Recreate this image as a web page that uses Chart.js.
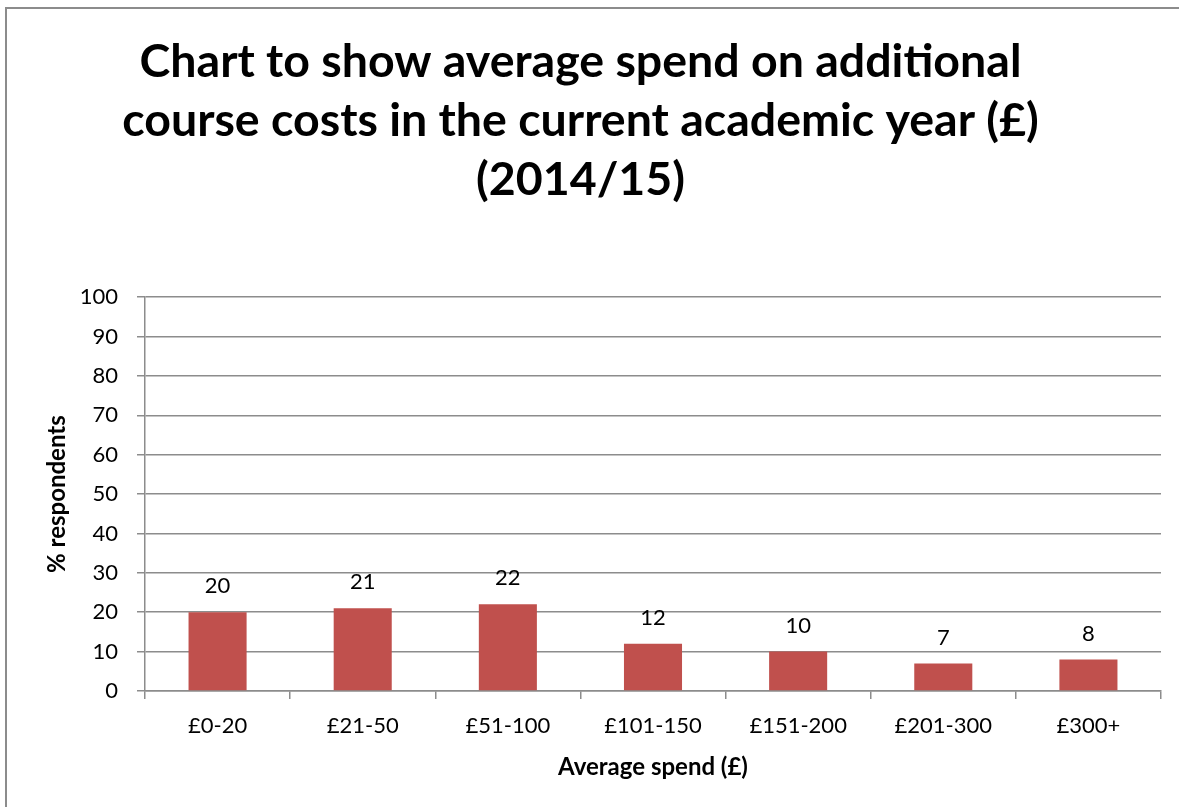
<!DOCTYPE html>
<html>
<head>
<meta charset="utf-8">
<script src="https://cdn.jsdelivr.net/npm/chart.js@4.4.1/dist/chart.umd.min.js"></script>
<style>
  html, body { margin:0; padding:0; background:#fff; overflow:hidden; }
  canvas { display:block; }
</style>
</head>
<body>
<canvas id="spendChart" width="1179" height="807"></canvas>
<script>
const categories = ["£0-20", "£21-50", "£51-100", "£101-150", "£151-200", "£201-300", "£300+"];
const respondents = [20, 21, 22, 12, 10, 7, 8];
const titleLines = [
  "Chart to show average spend on additional",
  "course costs in the current academic year (£)",
  "(2014/15)"
];
const yTitle = "% respondents";
const xTitle = "Average spend (£)";

const barColor = "#C0504D";
const lineColor = "#8c8c8c";
const fontName = "Lato, Carlito, Calibri, sans-serif";

// values printed over each bar
const barLabels = {
  id: "barLabels",
  afterDatasetsDraw(chart){
    const ctx = chart.ctx;
    const meta = chart.getDatasetMeta(0);
    ctx.save();
    ctx.font = "22px " + fontName;
    ctx.fillStyle = "#000";
    ctx.textAlign = "center";
    ctx.textBaseline = "middle";
    meta.data.forEach(function(bar, i){
      ctx.fillText(String(chart.data.datasets[0].data[i]), bar.x, bar.y - 26);
    });
    ctx.restore();
  }
};

// outer chart frame (only left and top edges fall inside the picture)
const frame = {
  id: "frame",
  beforeDraw(chart){
    const ctx = chart.ctx;
    ctx.save();
    ctx.strokeStyle = lineColor;
    ctx.lineWidth = 2;
    ctx.beginPath();
    ctx.moveTo(6, chart.height);
    ctx.lineTo(6, 8);
    ctx.lineTo(chart.width, 8);
    ctx.stroke();
    ctx.restore();
  }
};

const ctx = document.getElementById("spendChart");
new Chart(ctx, {
  type: "bar",
  data: {
    labels: categories,
    datasets: [{
      label: "% respondents",
      data: respondents,
      backgroundColor: barColor,
      borderWidth: 0,
      barPercentage: 0.4,
      categoryPercentage: 1.0
    }]
  },
  options: {
    responsive: false,
    animation: false,
    layout: { padding: { top: 0, left: 0, right: 18, bottom: 0 } },
    plugins: {
      legend: { display: false },
      tooltip: { enabled: false },
      title: {
        display: true,
        text: titleLines,
        color: "#000",
        font: { family: fontName, size: 46.5, weight: "bold", lineHeight: 1.27 },
        padding: { top: 32, bottom: 88 }
      }
    },
    scales: {
      x: {
        offset: true,
        afterFit(scale){ scale.height = 116; },
        grid: {
          offset: true,
          drawOnChartArea: false,
          drawTicks: true,
          tickLength: 8,
          color: lineColor,
          lineWidth: 1.5
        },
        border: { color: lineColor, width: 1.5 },
        ticks: {
          color: "#000",
          font: { family: fontName, size: 22 },
          padding: 14,
          maxRotation: 0
        },
        title: {
          display: true,
          text: xTitle,
          color: "#000",
          font: { family: fontName, size: 24, weight: "bold" },
          padding: { top: 0, bottom: 25 }
        }
      },
      y: {
        min: 0,
        max: 100,
        afterFit(scale){ scale.width = 145; },
        grid: {
          color: lineColor,
          lineWidth: 1.5,
          tickLength: 8
        },
        border: { color: lineColor, width: 1.5 },
        ticks: {
          stepSize: 10,
          color: "#000",
          font: { family: fontName, size: 22 },
          padding: 19
        },
        title: {
          display: true,
          text: yTitle,
          color: "#000",
          font: { family: fontName, size: 24, weight: "bold" },
          padding: { top: 43, bottom: 0 }
        }
      }
    }
  },
  plugins: [frame, barLabels]
});
</script>
</body>
</html>
